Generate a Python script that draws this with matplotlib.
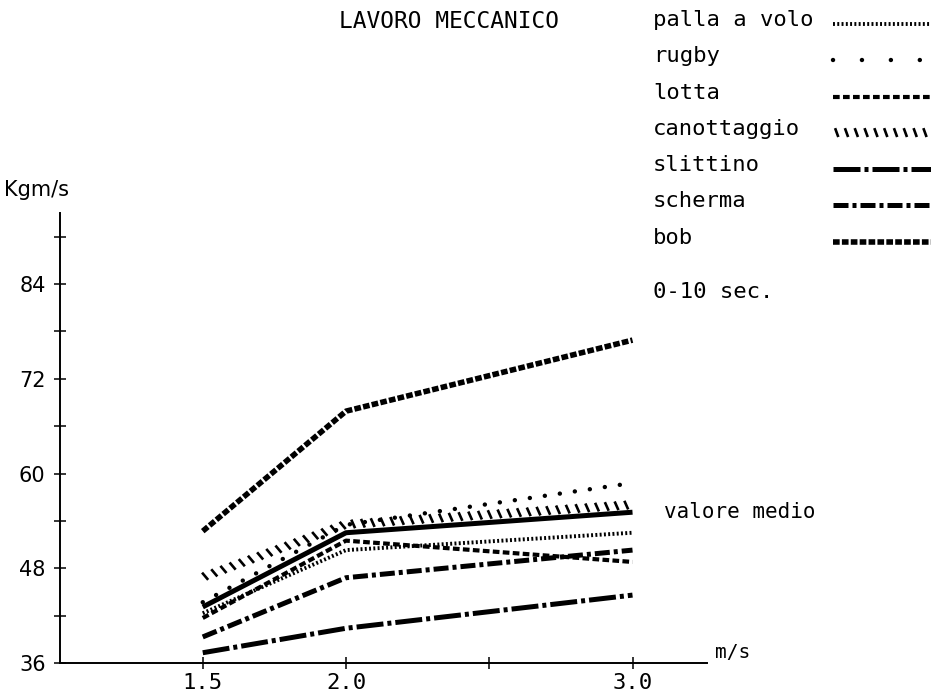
import matplotlib
matplotlib.use('Agg')
import matplotlib.pyplot as plt
import matplotlib.patheffects as pe
from matplotlib.lines import Line2D

# dati (Kgm/s alle diverse velocita)
velocita = [1.5, 2.0, 3.0]

palla_a_volo = [42.3, 50.3, 52.5]
rugby = [43.7, 53.5, 58.8]
lotta = [41.7, 51.5, 48.8]
canottaggio = [46.8, 53.5, 56.0]
slittino = [37.3, 40.4, 44.6]
scherma = [39.3, 46.8, 50.3]
bob = [52.7, 67.9, 76.9]
valore_medio = [43.1, 52.5, 55.1]

sport = ['palla a volo', 'rugby', 'lotta', 'canottaggio', 'slittino', 'scherma', 'bob']
serie = [palla_a_volo, rugby, lotta, canottaggio, slittino, scherma, bob]

y_ticks = [36, 42, 48, 54, 60, 66, 72, 78, 84, 90]
y_etichette = ['36', '', '48', '', '60', '', '72', '', '84', '']
x_ticks = [1.5, 2.0, 2.5, 3.0]
x_etichette = ['1.5', '2.0', '', '3.0']

# stili delle linee
stili = {
    'palla a volo': dict(lw=2.8, dashes=(0.5, 0.6)),
    'rugby': dict(lw=3.2, dashes=(0.01, 3.4), dash_capstyle='round'),
    'lotta': dict(lw=3.0, dashes=(1.6, 0.8)),
    'canottaggio': dict(lw=1.9, ls='-',
                        path_effects=[pe.TickedStroke(spacing=7, angle=110, length=0.7, offset=(0, -2))]),
    'slittino': dict(lw=3.6, dashes=(5.4, 0.8, 0.8, 0.8)),
    'scherma': dict(lw=3.6, dashes=(3.0, 0.8, 0.8, 0.8)),
    'bob': dict(lw=4.0, dashes=(1.2, 0.4)),
}

W, H = 931, 700
fig = plt.figure(figsize=(W / 100, H / 100), dpi=100)
ax = fig.add_axes([59.5 / W, 1 - 663 / H, (707 - 59.5) / W, (663 - 213) / H])

for nome, valori in zip(sport, serie):
    ax.plot(velocita, valori, color='black', clip_on=False, **stili[nome])
ax.plot(velocita, valore_medio, color='black', lw=3.6, solid_capstyle='butt')

ax.annotate('valore medio', xy=(velocita[-1], valore_medio[-1]), xytext=(23, 0),
            textcoords='offset points', va='center', ha='left',
            family='DejaVu Sans Mono', fontsize=15)

ax.set_xlim(1.0, 3.26)
ax.set_ylim(36, 93)
ax.set_xticks(x_ticks)
ax.set_xticklabels(x_etichette, family='DejaVu Sans Mono', fontsize=16)
ax.set_yticks(y_ticks)
ax.set_yticklabels(y_etichette, family='DejaVu Sans', fontsize=15)
ax.tick_params(axis='both', direction='inout', length=8, width=1.1, color='black')
ax.tick_params(axis='y', pad=6)
ax.tick_params(axis='x', pad=3)
for lato in ['top', 'right']:
    ax.spines[lato].set_visible(False)
for lato in ['left', 'bottom']:
    ax.spines[lato].set_linewidth(1.4)
ax.patch.set_alpha(0)

# testi
fig.text(449 / W, 1 - 21 / H, 'LAVORO MECCANICO', ha='center', va='center',
         family='DejaVu Sans Mono', fontsize=16.5)
fig.text(4 / W, 1 - 190 / H, 'Kgm/s', ha='left', va='center', family='DejaVu Sans', fontsize=15)
fig.text(715 / W, 1 - 653 / H, 'm/s', ha='left', va='center', family='DejaVu Sans Mono', fontsize=14)
fig.text(653 / W, 1 - 292 / H, '0-10 sec.', ha='left', va='center', family='DejaVu Sans Mono', fontsize=16)

# legenda disegnata a mano: testo a sinistra, campione di linea a destra
righe_y = [20, 56, 93, 129, 165, 201, 238]
for nome, ry in zip(sport, righe_y):
    fig.text(653 / W, 1 - ry / H, nome, ha='left', va='center', family='DejaVu Sans Mono', fontsize=16)
    stile = dict(stili[nome])
    if nome == 'rugby':
        stile['dashes'] = (0.01, 6.5)
    campione = Line2D([833 / W, 1.0], [1 - (ry + 4) / H] * 2, transform=fig.transFigure,
                      color='black', **stile)
    fig.add_artist(campione)

fig.savefig('out.png', dpi=100)
